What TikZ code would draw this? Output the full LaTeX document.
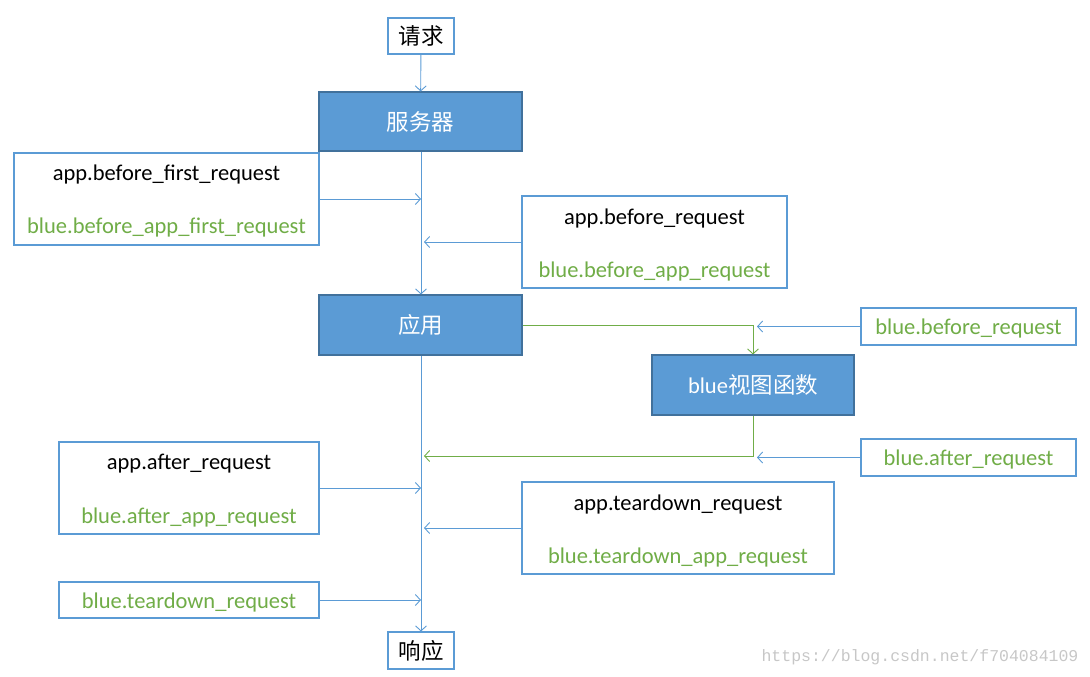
\documentclass[tikz,border=0pt]{standalone}
\usepackage{fontspec}
\setmainfont{Carlito}
\newfontfamily\cjk{Noto Sans CJK SC}
\newfontfamily\wmfont{Liberation Mono}
\usetikzlibrary{arrows.meta}
\definecolor{lblue}{HTML}{5B9BD5}
\definecolor{dblue}{HTML}{41719C}
\definecolor{lgreen}{HTML}{70AD47}
\tikzset{
  wbox/.style={draw=lblue, line width=1.1pt, fill=white, inner sep=0pt},
  fbox/.style={draw=dblue, line width=1.1pt, fill=lblue, inner sep=0pt, text=white, font=\cjk\fontsize{22.5}{26}\selectfont},
  btxt/.style={font=\fontsize{22.5}{26}\selectfont, text=black, inner sep=0pt, yshift=-2pt},
  gtxt/.style={font=\fontsize{22.5}{26}\selectfont, text=lgreen, inner sep=0pt, yshift=-2pt},
  arr/.style={draw=lblue, line width=0.9pt, -{Straight Barb[length=5pt,width=11pt]}},
  garr/.style={draw=lgreen, line width=0.9pt, -{Straight Barb[length=5pt,width=11pt]}},
}
\begin{document}
\begin{tikzpicture}[x=1pt,y=-1pt]
\useasboundingbox (0,0) rectangle (1090,677);
% boxes
\node[wbox, minimum width=66pt, minimum height=36pt, font=\cjk\fontsize{22.5}{26}\selectfont] (req) at (421,36) {请求};
\node[fbox, minimum width=203pt, minimum height=59pt] (srv) at (420.5,121.5) {服务器};
\node[wbox, minimum width=305pt, minimum height=92pt] (bfr) at (166.5,199) {};
\node[btxt] (bfra) at (166.5,173) {app.before\_first\_request};
\node[gtxt] (bfrb) at (166.5,226) {blue.before\_app\_first\_request};
\node[wbox, minimum width=265pt, minimum height=92pt] (br) at (654.5,242) {};
\node[btxt] (bra) at (654.5,216) {app.before\_request};
\node[gtxt] (brb) at (654.5,269) {blue.before\_app\_request};
\node[fbox, minimum width=203pt, minimum height=60pt] (app) at (420.5,325) {应用};
\node[wbox, minimum width=215pt, minimum height=37pt] (bbr) at (968.5,326.5) {};
\node[gtxt] (bbrt) at (968.5,326.5) {blue.before\_request};
\node[fbox, minimum width=202pt, minimum height=60pt] (view) at (753,385) {\fontspec{Carlito}blue\cjk 视图函数};
\node[wbox, minimum width=215pt, minimum height=37pt] (bar) at (968.5,457.5) {};
\node[gtxt] (bart) at (968.5,457.5) {blue.after\_request};
\node[wbox, minimum width=260pt, minimum height=92pt] (aar) at (189,488) {};
\node[btxt] (aara) at (189,462) {app.after\_request};
\node[gtxt] (aarb) at (189,515) {blue.after\_app\_request};
\node[wbox, minimum width=312pt, minimum height=92pt] (atr) at (678,528) {};
\node[btxt] (atra) at (678,502) {app.teardown\_request};
\node[gtxt] (atrb) at (678,555) {blue.teardown\_app\_request};
\node[wbox, minimum width=260pt, minimum height=36pt] (btr) at (189,600) {};
\node[gtxt] (btrt) at (189,600) {blue.teardown\_request};
\node[wbox, minimum width=66pt, minimum height=37pt, font=\cjk\fontsize{22.5}{26}\selectfont] (resp) at (421,650.5) {响应};
\node[font=\wmfont\fontsize{16.5}{18}\selectfont, text=black!22, inner sep=0pt] (wm) at (920,657) {https://blog.csdn.net/f704084109};
% free ends
\coordinate (bbrend) at (757,326.5);
\coordinate (barend) at (757,457.5);
\coordinate (vin) at (421,456);
% trunk
\draw[arr] (req) -- (srv);
\draw[arr] (srv.south -| req) -- (app.north -| req);
\draw[arr] (app.south -| req) -- (resp);
% side arrows
\draw[arr] (bfr.east) -- (bfr.east -| req);
\draw[arr] (br.west) -- ([xshift=3pt]br.west -| req);
\draw[garr] (app.east) -| (view.north);
\draw[arr] (bbr.west) -- (bbrend);
\draw[garr] (view.south) |- ([xshift=3pt]vin);
\draw[arr] (bar.west) -- (barend);
\draw[arr] (aar.east) -- (aar.east -| req);
\draw[arr] (atr.west) -- ([xshift=3pt]atr.west -| req);
\draw[arr] (btr.east) -- (btr.east -| req);
\end{tikzpicture}
\end{document}
